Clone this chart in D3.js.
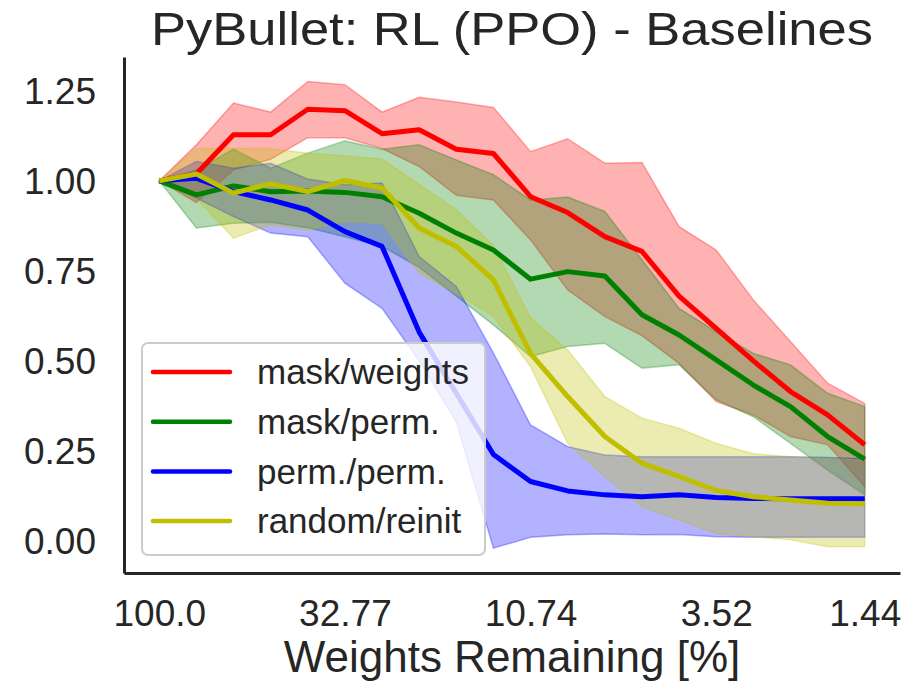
<!DOCTYPE html>
<html>
<head>
<meta charset="utf-8">
<script src="https://cdn.jsdelivr.net/npm/d3@7"></script>
<style>
  body { margin: 0; background: #fff; }
  svg { display: block; font-family: 'Liberation Sans', Arial, sans-serif; }
</style>
</head>
<body>
<div class="chart"></div>
<script>
// pruning rounds, weights remaining = 100 * 0.8^round
const rounds = [0, 1, 2, 3, 4, 5, 6, 7, 8, 9, 10, 11, 12, 13, 14, 15, 16, 17, 18, 19]
const tickRounds = [0, 5, 10, 15, 19]
const tickLabels = ['100.0', '32.77', '10.74', '3.52', '1.44']
const yTicks = [0, 0.25, 0.5, 0.75, 1.0, 1.25]

const seriesNames = ['mask/weights', 'mask/perm.', 'perm./perm.', 'random/reinit']

const maskWeightsMean = [1.0, 1.02, 1.128, 1.128, 1.199, 1.195, 1.131, 1.142, 1.088, 1.076, 0.956, 0.912, 0.845, 0.804, 0.68, 0.59, 0.5, 0.415, 0.35, 0.267]
const maskWeightsHigh = [1.0, 1.1, 1.216, 1.191, 1.276, 1.267, 1.191, 1.232, 1.219, 1.204, 1.081, 1.117, 1.049, 1.051, 0.873, 0.808, 0.669, 0.554, 0.438, 0.382]
const maskWeightsLow = [1.0, 0.94, 1.03, 1.06, 1.12, 1.12, 1.09, 1.04, 0.96, 0.947, 0.836, 0.697, 0.623, 0.57, 0.493, 0.387, 0.35, 0.29, 0.267, 0.151]

const maskPermMean = [1.0, 0.961, 0.986, 0.97, 0.972, 0.968, 0.956, 0.91, 0.855, 0.808, 0.727, 0.748, 0.736, 0.628, 0.572, 0.503, 0.433, 0.373, 0.29, 0.227]
const maskPermHigh = [1.0, 1.03, 1.088, 1.035, 1.077, 1.111, 1.088, 1.1, 1.058, 1.017, 0.947, 0.955, 0.915, 0.781, 0.646, 0.581, 0.521, 0.489, 0.41, 0.373]
const maskPermLow = [1.0, 0.869, 0.882, 0.885, 0.87, 0.845, 0.818, 0.76, 0.68, 0.6, 0.512, 0.54, 0.549, 0.48, 0.489, 0.392, 0.345, 0.271, 0.197, 0.128]

const permPermMean = [1.0, 1.007, 0.97, 0.947, 0.919, 0.859, 0.818, 0.58, 0.41, 0.24, 0.165, 0.139, 0.128, 0.123, 0.128, 0.121, 0.118, 0.117, 0.117, 0.117]
const permPermHigh = [1.0, 1.054, 1.035, 1.049, 1.005, 0.989, 0.994, 0.79, 0.707, 0.522, 0.322, 0.262, 0.239, 0.234, 0.234, 0.234, 0.234, 0.234, 0.232, 0.228]
const permPermLow = [1.0, 0.952, 0.901, 0.855, 0.845, 0.716, 0.646, 0.5, 0.33, -0.02, 0.01, 0.017, 0.019, 0.017, 0.018, 0.012, 0.01, 0.01, 0.01, 0.01]

const randomMean = [1.0, 1.019, 0.966, 0.992, 0.97, 1.001, 0.98, 0.869, 0.818, 0.725, 0.52, 0.401, 0.29, 0.216, 0.179, 0.14, 0.123, 0.114, 0.105, 0.103]
const randomHigh = [1.0, 1.09, 1.09, 1.09, 1.077, 1.07, 1.06, 0.99, 0.92, 0.82, 0.62, 0.53, 0.401, 0.341, 0.313, 0.271, 0.242, 0.234, 0.23, 0.225]
const randomLow = [1.0, 0.952, 0.841, 0.878, 0.864, 0.887, 0.882, 0.743, 0.688, 0.623, 0.484, 0.271, 0.179, 0.095, 0.058, 0.021, 0.012, 0.003, -0.016, -0.016]

const RED = '#ff0000'
const GREEN = '#008000'
const BLUE = '#0000ff'
const YELLOW = '#bfbf00'
const TEXT = '#262626'

const series = [
  { name: seriesNames[0], color: RED, mean: maskWeightsMean, hi: maskWeightsHigh, lo: maskWeightsLow },
  { name: seriesNames[1], color: GREEN, mean: maskPermMean, hi: maskPermHigh, lo: maskPermLow },
  { name: seriesNames[2], color: BLUE, mean: permPermMean, hi: permPermHigh, lo: permPermLow },
  { name: seriesNames[3], color: YELLOW, mean: randomMean, hi: randomHigh, lo: randomLow }
]

const W = 921
const H = 683
const margin = { top: 57, right: 21, bottom: 110, left: 124 }
const width = W - margin.left - margin.right
const height = H - margin.top - margin.bottom

const svg = d3.select('.chart').append('svg')
  .attr('width', W)
  .attr('height', H)

const chart = svg.append('g')
  .attr('transform', `translate(${margin.left},${margin.top})`)

// matplotlib-ish 5% margins around the data
const x = d3.scaleLinear()
  .domain([-0.95, 19.95])
  .range([0, width])
const y = d3.scaleLinear()
  .domain([-0.089, 1.344])
  .range([height, 0])

// bands first, then lines on top
const area = d3.area()
  .x((d, i) => x(rounds[i]))
  .y0(d => y(d[0]))
  .y1(d => y(d[1]))
const line = d3.line()
  .x((d, i) => x(rounds[i]))
  .y(d => y(d))

series.forEach(s => {
  chart.append('path')
    .datum(s.lo.map((v, i) => [v, s.hi[i]]))
    .attr('fill', s.color)
    .attr('fill-opacity', 0.3)
    .attr('stroke', s.color)
    .attr('stroke-opacity', 0.3)
    .attr('stroke-width', 1.5)
    .attr('d', area)
})

series.forEach(s => {
  chart.append('path')
    .datum(s.mean)
    .attr('fill', 'none')
    .attr('stroke', s.color)
    .attr('stroke-width', 5)
    .attr('stroke-linejoin', 'round')
    .attr('d', line)
})

// axes (only left + bottom spines, no tick marks)
const xAxis = chart.append('g')
  .attr('transform', `translate(0, ${height})`)
  .call(d3.axisBottom(x).tickSize(0).tickPadding(53)
    .tickValues(tickRounds)
    .tickFormat((d, i) => tickLabels[i]))
const yAxis = chart.append('g')
  .call(d3.axisLeft(y).tickSize(0).tickPadding(28)
    .tickValues(yTicks)
    .tickFormat(d3.format('.2f')))

;[xAxis, yAxis].forEach(ax => {
  ax.select('.domain').attr('stroke', TEXT).attr('stroke-width', 3)
  ax.selectAll('text')
    .attr('fill', TEXT)
    .style('font-size', '37px')
    .style('font-family', "'Liberation Sans', Arial, sans-serif")
})
yAxis.selectAll('text').attr('dy', '0.35em')
xAxis.selectAll('text').attr('dy', '0')

// title and x label
svg.append('text')
  .attr('x', margin.left + width / 2)
  .attr('y', 45)
  .attr('text-anchor', 'middle')
  .attr('fill', TEXT)
  .attr('textLength', 722)
  .attr('lengthAdjust', 'spacingAndGlyphs')
  .style('font-size', '47px')
  .text('PyBullet: RL (PPO) - Baselines')

svg.append('text')
  .attr('x', margin.left + width / 2)
  .attr('y', 672)
  .attr('text-anchor', 'middle')
  .attr('fill', TEXT)
  .style('font-size', '44px')
  .text('Weights Remaining [%]')

// legend
const legend = chart.append('g')
  .attr('transform', `translate(${142 - margin.left}, ${343 - margin.top})`)
legend.append('rect')
  .attr('width', 343)
  .attr('height', 212)
  .attr('rx', 6)
  .attr('fill', '#ffffff')
  .attr('fill-opacity', 0.8)
  .attr('stroke', '#cccccc')
  .attr('stroke-width', 2)

series.forEach((s, i) => {
  const row = legend.append('g')
    .attr('transform', `translate(0, ${29 + i * 49.7})`)
  row.append('line')
    .attr('x1', 11)
    .attr('x2', 88)
    .attr('stroke', s.color)
    .attr('stroke-width', 4.5)
    .attr('stroke-linecap', 'round')
  row.append('text')
    .attr('x', 115)
    .attr('dy', '0.35em')
    .attr('fill', TEXT)
    .style('font-size', '35px')
    .text(s.name)
})
</script>
</body>
</html>
